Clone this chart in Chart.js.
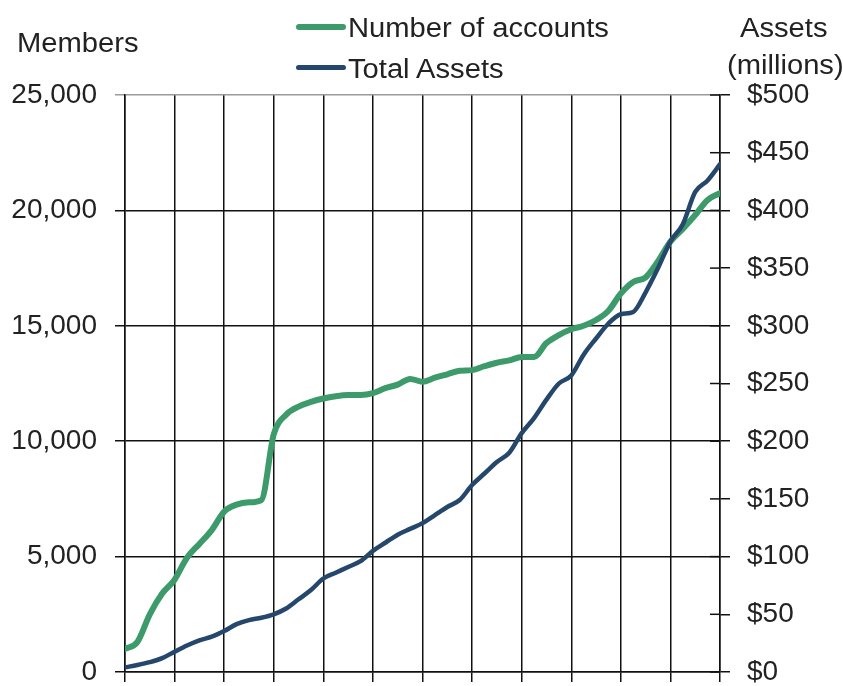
<!DOCTYPE html>
<html lang="en">
<head>
  <meta charset="UTF-8">
  <title>Members and Total Assets</title>
  <script src="https://cdn.jsdelivr.net/npm/chart.js"></script>
  <style>
    body {
      margin: 0;
      background: #fff;
      font-family: 'Liberation Sans', Arial, sans-serif;
    }
    .wrap {
      position: relative;
      width: 843px;
      height: 686px;
    }
    .wrap canvas {
      position: absolute;
      left: 0;
      top: 0;
    }
    .lbl {
      position: absolute;
      font-size: 27px;
      line-height: 27px;
      color: #222;
      white-space: nowrap;
      transform: scaleX(1.08);
      transform-origin: left top;
    }
    .swatch {
      position: absolute;
      width: 50px;
      border-radius: 4px;
    }
  </style>
</head>
<body>
  <div class="wrap">
    <canvas id="growthChart" width="843" height="686"></canvas>
    <div class="lbl" style="left:17px; top:30px;">Members</div>
    <div class="swatch" style="left:296px; top:24px; height:6px; background:#3d9a6b;"></div>
    <div class="lbl" style="left:348px; top:15px;">Number of accounts</div>
    <div class="swatch" style="left:296px; top:65px; height:5px; background:#24476b;"></div>
    <div class="lbl" style="left:348px; top:56px;">Total Assets</div>
    <div class="lbl" style="left:740px; top:15px;">Assets</div>
    <div class="lbl" style="left:727px; top:52px;">(millions)</div>
  </div>
  <script>
    // quarterly points, x = years since start
    const quarters = [0, 0.25, 0.5, 0.75, 1, 1.25, 1.5, 1.75, 2, 2.25, 2.5, 2.75,
      3, 3.25, 3.5, 3.75, 4, 4.25, 4.5, 4.75, 5, 5.25, 5.5, 5.75,
      6, 6.25, 6.5, 6.75, 7, 7.25, 7.5, 7.75, 8, 8.25, 8.5, 8.75,
      9, 9.25, 9.5, 9.75, 10, 10.25, 10.5, 10.75, 11, 11.25, 11.5, 11.75, 12];

    const accounts = [1000, 1300, 2500, 3400, 4000, 4950, 5550, 6150, 6950, 7250, 7350, 7450,
      10300, 11150, 11500, 11700, 11850, 11950, 12000, 12000, 12080, 12300, 12450, 12700,
      12580, 12750, 12900, 13050, 13080, 13250, 13400, 13500, 13650, 13650, 14250, 14600,
      14850, 15000, 15250, 15650, 16400, 16900, 17100, 17800, 18650, 19200, 19800, 20450, 20750];

    const assets = [4, 6, 8.5, 12, 17.6, 23, 27.5, 30.6, 35.5, 41.5, 45, 47,
      50, 55, 63, 71, 81, 86, 91, 96, 105, 112, 119, 124,
      129, 136, 143, 149, 162, 172, 182, 190, 207, 220, 236, 250,
      257, 275, 289, 302, 310, 312, 329, 350, 373, 388, 416, 426, 440];

    const memberTicks = [0, 5000, 10000, 15000, 20000, 25000];
    const assetTicks = [0, 50, 100, 150, 200, 250, 300, 350, 400, 450, 500];

    const tickFont = { family: "'Liberation Sans', Arial, sans-serif", size: 28 };

    // keep the label overhang from shrinking the plot
    function fixSide(w) {
      return s => {
        s.width = w;
        s.paddingTop = 0;
        s.paddingBottom = 0;
      };
    }

    // right axis ticks cross the axis line
    const innerTicks = {
      id: 'innerTicks',
      beforeDatasetsDraw(chart) {
        const s = chart.scales.y2;
        const ctx = chart.ctx;
        ctx.save();
        ctx.strokeStyle = '#111';
        ctx.lineWidth = 1.5;
        s.ticks.forEach(t => {
          const y = s.getPixelForValue(t.value);
          ctx.beginPath();
          ctx.moveTo(s.left - 10, y);
          ctx.lineTo(s.left, y);
          ctx.stroke();
        });
        ctx.restore();
      }
    };

    new Chart(document.getElementById('growthChart').getContext('2d'), {
      type: 'line',
      data: {
        datasets: [{
          label: 'Total Assets',
          data: assets.map((v, i) => ({ x: quarters[i], y: v })),
          borderColor: '#24476b',
          borderWidth: 4.5,
          pointRadius: 0,
          tension: 0.4,
          cubicInterpolationMode: 'monotone',
          borderCapStyle: 'round',
          borderJoinStyle: 'round',
          yAxisID: 'y2',
          order: 0
        }, {
          label: 'Number of accounts',
          data: accounts.map((v, i) => ({ x: quarters[i], y: v })),
          borderColor: '#3d9a6b',
          borderWidth: 6,
          pointRadius: 0,
          tension: 0.4,
          cubicInterpolationMode: 'monotone',
          borderCapStyle: 'round',
          borderJoinStyle: 'round',
          yAxisID: 'y',
          order: 1
        }]
      },
      options: {
        responsive: false,
        animation: false,
        layout: { padding: { top: 95, left: 0, right: 0, bottom: 0 } },
        plugins: { legend: { display: false }, tooltip: { enabled: false } },
        scales: {
          x: {
            type: 'linear',
            min: 0,
            max: 12,
            ticks: { display: false, stepSize: 1 },
            grid: { color: '#111', lineWidth: 1.5, tickLength: 10 },
            border: { color: '#111', width: 1.5 },
            afterFit: s => { s.height = 14; s.paddingLeft = 0; s.paddingRight = 0; }
          },
          y: {
            position: 'left',
            min: 0,
            max: 25000,
            afterBuildTicks: s => { s.ticks = memberTicks.map(v => ({ value: v })); },
            ticks: {
              font: tickFont,
              color: '#222',
              padding: 18,
              callback: v => v.toLocaleString('en-US')
            },
            grid: {
              color: c => (c.tick && c.tick.value === 25000) ? '#9a9a9a' : '#111',
              lineWidth: 1.5,
              tickLength: 10
            },
            border: { color: '#111', width: 1.5 },
            afterFit: fixSide(125)
          },
          y2: {
            position: 'right',
            min: 0,
            max: 500,
            afterBuildTicks: s => { s.ticks = assetTicks.map(v => ({ value: v })); },
            ticks: {
              font: tickFont,
              color: '#222',
              padding: 17,
              callback: v => '$' + v
            },
            grid: { drawOnChartArea: false, color: '#111', lineWidth: 1.5, tickLength: 10 },
            border: { color: '#111', width: 1.5 },
            afterFit: fixSide(123)
          }
        }
      },
      plugins: [innerTicks]
    });
  </script>
</body>
</html>
